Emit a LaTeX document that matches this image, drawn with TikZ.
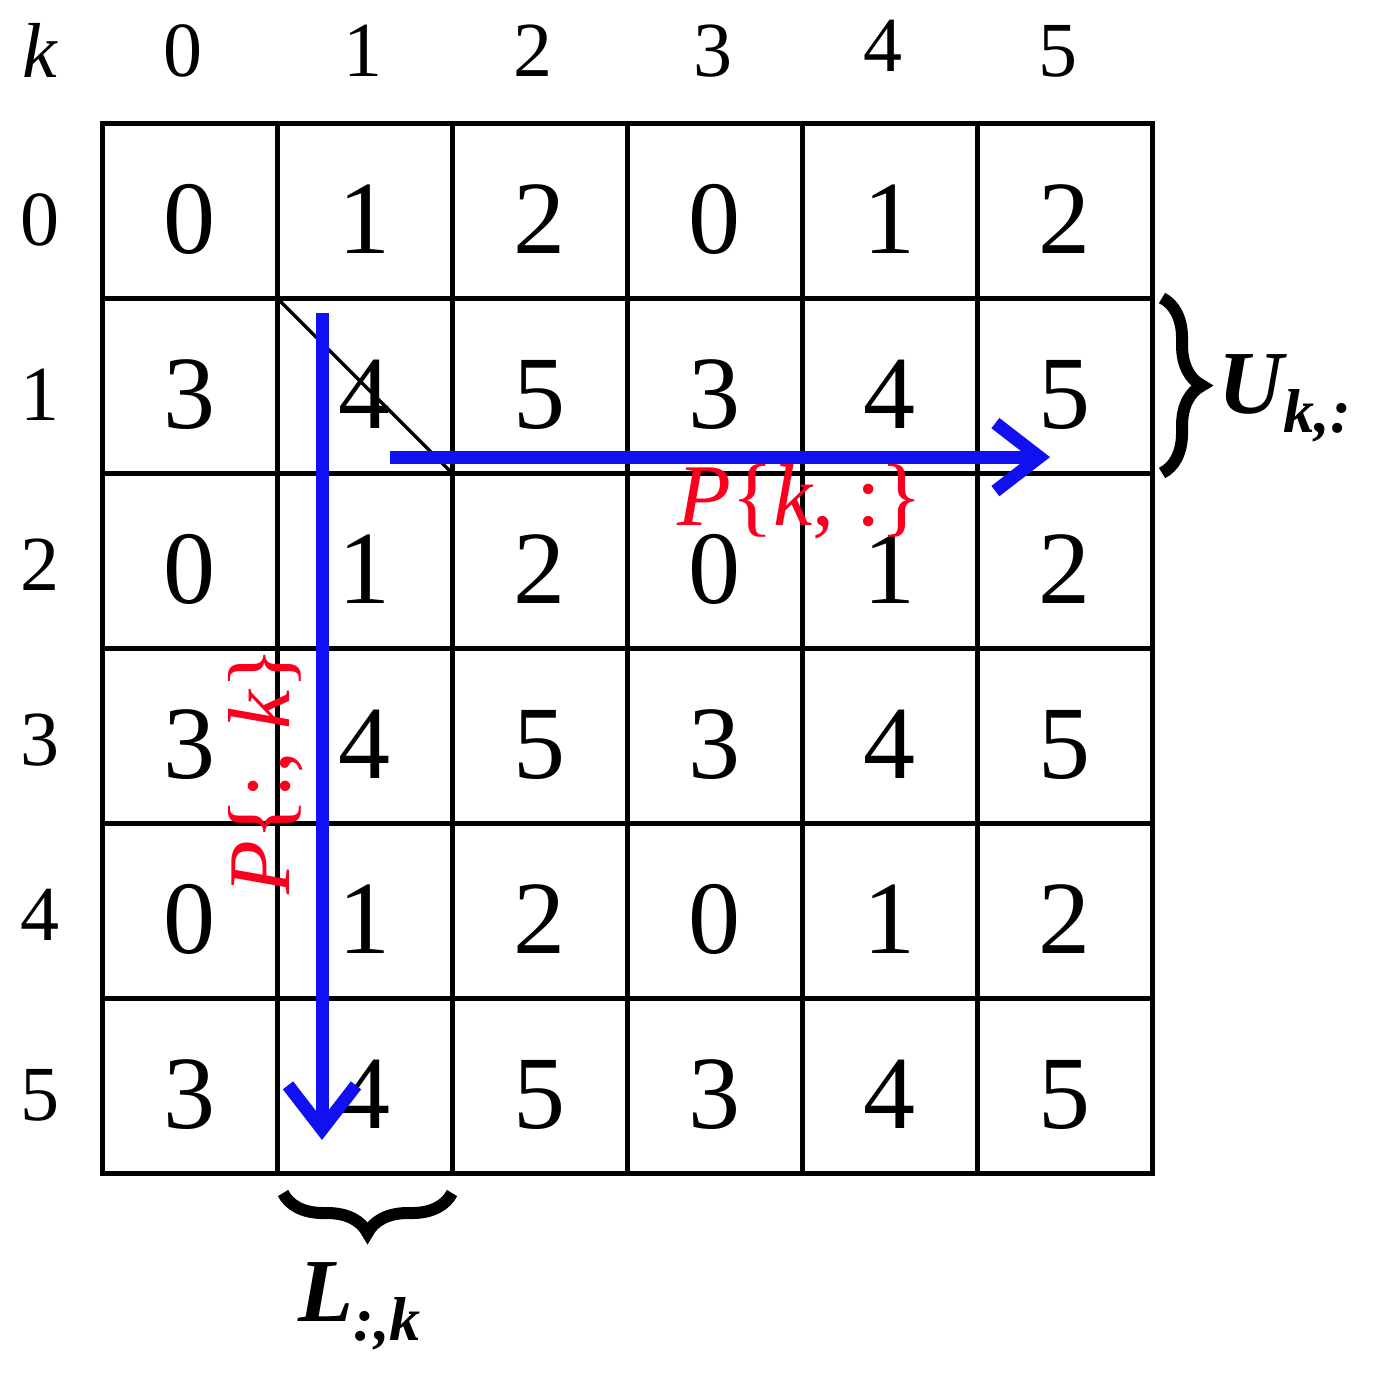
\documentclass[tikz,border=0pt]{standalone}
\usepackage{fontspec}
\setmainfont{Liberation Serif}
\usetikzlibrary{arrows.meta,decorations.pathreplacing}
\pgfdeclarelayer{nodelayer}
\pgfdeclarelayer{edgelayer}
\pgfsetlayers{main,edgelayer,nodelayer}
\definecolor{arrowblue}{RGB}{16,16,240}
\definecolor{labelred}{RGB}{250,0,30}
\tikzstyle{cell}=[draw=black, line width=2.5pt, shape=rectangle, minimum size=87.5pt, inner sep=0pt, outer sep=0pt, font=\fontsize{52}{52}\selectfont, text height=43pt, text depth=0pt]
\tikzstyle{index}=[inner sep=0pt, font=\fontsize{39}{39}\selectfont]
\tikzstyle{path label}=[inner sep=0pt, text=labelred, font=\fontsize{44}{44}\selectfont]
\tikzstyle{block label}=[inner sep=0pt, font=\fontsize{45}{45}\selectfont\bfseries\itshape]
\tikzstyle{walk}=[draw=arrowblue, line width=6.5pt, -{Straight Barb[length=22pt, width=34pt]}]
\tikzstyle{cut}=[draw=black, line width=1.7pt]
\tikzstyle{brace}=[draw=black, line width=6pt, decorate, decoration={brace, amplitude=20pt}]
\newcommand{\lowsub}[1]{\raisebox{-9.5pt}{\fontsize{31}{31}\selectfont #1}}

\begin{document}
\begin{tikzpicture}[x=87.5pt, y=87.5pt]
	\useasboundingbox (-0.583, 0.703) rectangle (7.297, -7.154);
	\begin{pgfonlayer}{nodelayer}
		\node [style=index] (kk) at (-0.354, 0.417) {\textit{k}};
		\node [style=index] (h0) at (0.463, 0.411) {0};
		\node [style=index] (h1) at (1.491, 0.411) {1};
		\node [style=index] (h2) at (2.463, 0.411) {2};
		\node [style=index] (h3) at (3.491, 0.411) {3};
		\node [style=index] (h4) at (4.463, 0.44) {4};
		\node [style=index] (h5) at (5.463, 0.411) {5};
		\node [style=index] (v0) at (-0.354, -0.554) {0};
		\node [style=index] (v1) at (-0.354, -1.554) {1};
		\node [style=index] (v2) at (-0.354, -2.526) {2};
		\node [style=index] (v3) at (-0.354, -3.526) {3};
		\node [style=index] (v4) at (-0.354, -4.526) {4};
		\node [style=index] (v5) at (-0.354, -5.554) {5};
		\node [style=path label, anchor=base west] (prow) at (3.286, -2.297) {\textit{P}\{\textit{k}, :\}};
		\node [style=path label, anchor=base west, rotate=90] (pcol) at (1.074, -4.41) {\textit{P}\{:, \textit{k}\}};
		\node [style=block label, anchor=base west] (urow) at (6.38, -1.657) {U\lowsub{k,:}};
		\node [style=block label, anchor=base west] (lcol) at (1.12, -6.851) {L\lowsub{:,k}};
	\end{pgfonlayer}
	% the 6x6 table
	\node [style=cell] (c00) at (0.5, -0.5) {0};
	\node [style=cell] (c01) at (1.5, -0.5) {1};
	\node [style=cell] (c02) at (2.5, -0.5) {2};
	\node [style=cell] (c03) at (3.5, -0.5) {0};
	\node [style=cell] (c04) at (4.5, -0.5) {1};
	\node [style=cell] (c05) at (5.5, -0.5) {2};
	\node [style=cell] (c10) at (0.5, -1.5) {3};
	\node [style=cell] (c11) at (1.5, -1.5) {4};
	\node [style=cell] (c12) at (2.5, -1.5) {5};
	\node [style=cell] (c13) at (3.5, -1.5) {3};
	\node [style=cell] (c14) at (4.5, -1.5) {4};
	\node [style=cell] (c15) at (5.5, -1.5) {5};
	\node [style=cell] (c20) at (0.5, -2.5) {0};
	\node [style=cell] (c21) at (1.5, -2.5) {1};
	\node [style=cell] (c22) at (2.5, -2.5) {2};
	\node [style=cell] (c23) at (3.5, -2.5) {0};
	\node [style=cell] (c24) at (4.5, -2.5) {1};
	\node [style=cell] (c25) at (5.5, -2.5) {2};
	\node [style=cell] (c30) at (0.5, -3.5) {3};
	\node [style=cell] (c31) at (1.5, -3.5) {4};
	\node [style=cell] (c32) at (2.5, -3.5) {5};
	\node [style=cell] (c33) at (3.5, -3.5) {3};
	\node [style=cell] (c34) at (4.5, -3.5) {4};
	\node [style=cell] (c35) at (5.5, -3.5) {5};
	\node [style=cell] (c40) at (0.5, -4.5) {0};
	\node [style=cell] (c41) at (1.5, -4.5) {1};
	\node [style=cell] (c42) at (2.5, -4.5) {2};
	\node [style=cell] (c43) at (3.5, -4.5) {0};
	\node [style=cell] (c44) at (4.5, -4.5) {1};
	\node [style=cell] (c45) at (5.5, -4.5) {2};
	\node [style=cell] (c50) at (0.5, -5.5) {3};
	\node [style=cell] (c51) at (1.5, -5.5) {4};
	\node [style=cell] (c52) at (2.5, -5.5) {5};
	\node [style=cell] (c53) at (3.5, -5.5) {3};
	\node [style=cell] (c54) at (4.5, -5.5) {4};
	\node [style=cell] (c55) at (5.5, -5.5) {5};
	\coordinate (rowstart) at (1.646, -1.909);
	\coordinate (rowend) at (5.417, -1.909);
	\coordinate (colstart) at (1.257, -1.086);
	\coordinate (colend) at (1.257, -5.811);
	\begin{pgfonlayer}{edgelayer}
		\draw [style=cut] (c11.north west) to (c11.south east);
		\draw [style=walk] (rowstart) to (rowend);
		\draw [style=walk] (colstart) to (colend);
		\draw [style=brace] ([xshift=5pt]c15.north east) to ([xshift=5pt]c15.south east);
		\draw [style=brace] ([yshift=-10pt]c51.south east) to ([yshift=-10pt, xshift=3pt]c51.south west);
	\end{pgfonlayer}
\end{tikzpicture}
\end{document}
